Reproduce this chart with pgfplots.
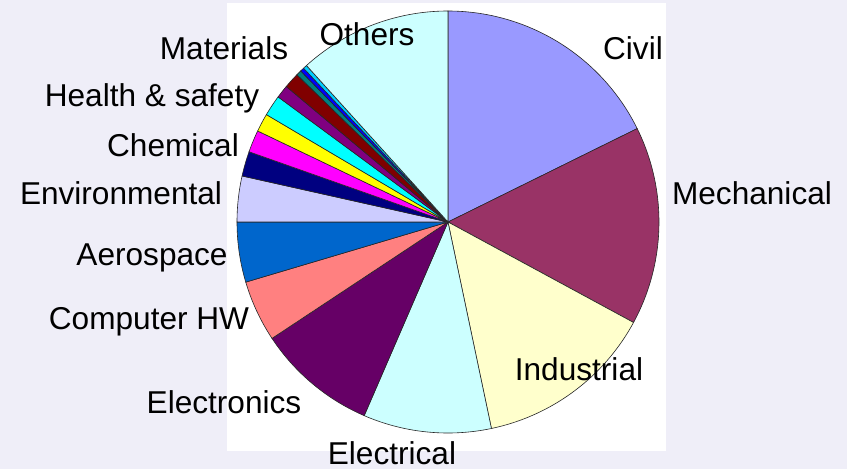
\documentclass[border=0pt]{standalone}
\usepackage{pgfplots}
\usepackage{pgfplotstable}
\pgfplotsset{compat=1.18}
\usepackage{fontspec}
\setmainfont{Liberation Sans}
\definecolor{bgcol}{HTML}{EFEEF8}
\definecolor{cCivil}{HTML}{9999FF}
\definecolor{cMech}{HTML}{993366}
\definecolor{cInd}{HTML}{FFFFCC}
\definecolor{cElec}{HTML}{CCFFFF}
\definecolor{cElon}{HTML}{660066}
\definecolor{cComp}{HTML}{FF8080}
\definecolor{cAero}{HTML}{0066CC}
\definecolor{cEnv}{HTML}{CCCCFF}
\definecolor{cS1}{HTML}{000080}
\definecolor{cChem}{HTML}{FF00FF}
\definecolor{cS3}{HTML}{FFFF00}
\definecolor{cHealth}{HTML}{00FFFF}
\definecolor{cS5}{HTML}{800080}
\definecolor{cS6}{HTML}{800000}
\definecolor{cS7}{HTML}{008080}
\definecolor{cMat}{HTML}{0000FF}
\definecolor{cS9}{HTML}{00CCFF}
\definecolor{cOther}{HTML}{CCFFFF}
\pgfplotstableread{
name value color
Civil 17.7 cCivil
Mechanical 15.2 cMech
Industrial 13.8 cInd
Electrical 9.8 cElec
Electronics 9.2 cElon
ComputerHW 4.7 cComp
Aerospace 4.6 cAero
Environmental 3.5 cEnv
S1 1.9 cS1
Chemical 1.7 cChem
S3 1.4 cS3
Health 1.6 cHealth
S5 1.0 cS5
S6 1.2 cS6
S7 0.4 cS7
Materials 0.3 cMat
S9 0.3 cS9
Others 11.7 cOther
}\piedata
\begin{document}
\begin{tikzpicture}
\begin{axis}[
  width=423.5pt, height=234.5pt, scale only axis,
  xmin=0, xmax=847, ymin=0, ymax=469,
  axis lines=none, clip=false,
]
\fill[bgcol] (0,0) rectangle (847,469);
\fill[white] (227,18) rectangle (666,466);
\def\cum{0}
\pgfplotsforeachungrouped \i in {0,...,17}{%
  \pgfplotstablegetelem{\i}{value}\of\piedata \let\v\pgfplotsretval
  \pgfplotstablegetelem{\i}{color}\of\piedata \let\c\pgfplotsretval
  \pgfmathsetmacro\aS{90-3.6*\cum}%
  \pgfmathsetmacro\aE{90-3.6*(\cum+\v)}%
  \edef\doplot{\noexpand\addplot[fill=\c, draw=black!85, line width=0.3pt, domain=\aE:\aS, samples=80] ({448+211*cos(x)},{247+211*sin(x)}) -- (448,247) -- cycle;}%
  \doplot
  \pgfmathsetmacro\cum{\cum+\v}%
}
\begin{scope}[every node/.style={font=\fontsize{15.8}{18}\selectfont, inner sep=0pt}]
\node at (224,421) {Materials};
\node at (367,435) {Others};
\node at (633,421) {Civil};
\node at (152,371) {Health \& safety};
\node at (173,324) {Chemical};
\node at (121,276) {Environmental};
\node at (752,276) {Mechanical};
\node at (152,211) {Aerospace};
\node at (149,147) {Computer HW};
\node at (579,100) {Industrial};
\node at (224,67) {Electronics};
\node at (392,16) {Electrical};
\end{scope}
\end{axis}
\end{tikzpicture}
\end{document}
